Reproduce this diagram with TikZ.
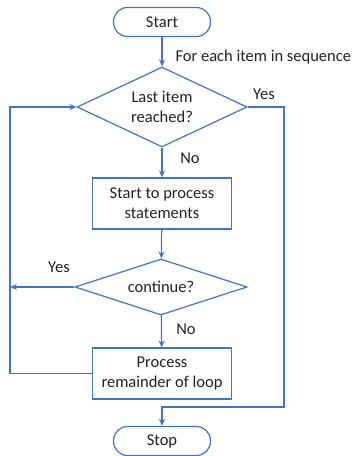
\documentclass[tikz,border=0pt]{standalone}
\usepackage{fontspec}
\setmainfont{Carlito}
\usetikzlibrary{shapes.geometric,arrows.meta}
\definecolor{flowblue}{RGB}{68,114,196}
\definecolor{flowtext}{RGB}{34,34,34}

\tikzset{
  terminal/.style={draw=flowblue, line width=1.2pt, rectangle, rounded corners=14pt,
    minimum width=97pt, minimum height=29pt, text=flowtext},
  process/.style={draw=flowblue, line width=1.2pt, rectangle, align=center,
    minimum width=139pt, minimum height=51pt, text=flowtext},
  decision/.style={draw=flowblue, line width=1.2pt, diamond, aspect=2, align=center,
    inner sep=1pt, text=flowtext},
  flow/.style={draw=flowblue, line width=1.2pt, -{Stealth[length=7pt,width=6pt]}},
  line/.style={draw=flowblue, line width=1.2pt},
  tag/.style={text=flowtext}
}

\begin{document}
\begin{tikzpicture}[x=1pt, y=-1pt, font=\fontsize{16.5}{20}\selectfont]
  \useasboundingbox (0,0) rectangle (355,456);

  % main column
  \node[terminal] (start) at (162,22) {Start};
  \node[decision, minimum width=170pt, minimum height=80pt] (last) at (162,107) {Last item\\reached?};
  \node[process] (stmts) at (162,203.5) {Start to process\\statements};
  \node[decision, minimum width=172pt, minimum height=56pt] (cont) at (161,287) {continue?};
  \node[process] (rest) at (162,373.5) {Process\\remainder of loop};
  \node[terminal] (stop) at (162,441) {Stop};

  % loop corners
  \coordinate (lleft) at (10,0);
  \coordinate (rtop) at (284,107);
  \coordinate (rbot) at (284,407);

  \draw[flow] (start) -- (last);
  \draw[flow] (last) -- (stmts);
  \draw[flow] (stmts) -- (cont);
  \draw[flow] (cont) -- (rest);

  % exit branch
  \draw[flow] (last.east) -- (rtop) -- (rbot) -| (stop.north);

  % back to the test
  \draw[flow] (rest.west) -- (rest.west -| lleft) -- (last.west -| lleft) -- (last.west);
  \draw[flow] (cont.west) -- (cont.west -| lleft);

  % labels
  \node[tag, anchor=west] (each) at (172,57) {For each item in sequence};
  \node[tag] (yes1) at (264,94) {Yes};
  \node[tag] (no1) at (190,158) {No};
  \node[tag] (yes2) at (59,267) {Yes};
  \node[tag] (no2) at (186,329) {No};
\end{tikzpicture}
\end{document}
